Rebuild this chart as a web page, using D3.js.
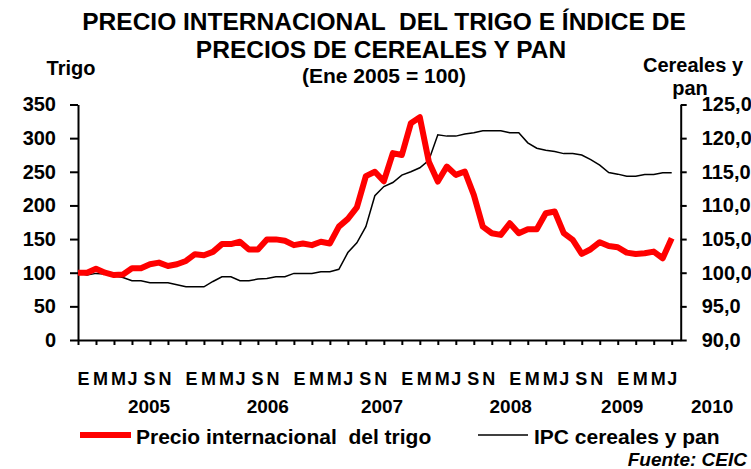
<!DOCTYPE html>
<html>
<head>
<meta charset="utf-8">
<script src="https://cdn.jsdelivr.net/npm/d3@7"></script>
<style>
body { margin: 0; background: #fff; }
svg text { font-family: Arial, "Liberation Sans", sans-serif; font-weight: bold; fill: #000; white-space: pre; }
</style>
</head>
<body>
<svg></svg>
<script>
var width = 751;
var height = 469;

// monthly data, Ene 2005 .. Jul 2010 (index 0 = Ene 2005)
var trigo = [100, 100, 106, 100, 96.5, 97.5, 106.5, 106.5, 112.5, 115,
             110, 112.5, 117.5, 127.5, 126, 131, 142.5, 142.5, 146, 134.5,
             134.5, 149.5, 149.5, 147.5, 141, 143.5, 141, 146, 143.5, 168.5,
             180, 197, 243.5, 250, 236, 277.7, 275, 322, 331, 265,
             235.5, 257.8, 245.4, 250.4, 215.7, 168.5, 158.7, 156.2, 173.5, 158.7,
             164.6, 164.6, 188.4, 190.9, 158.7, 148.7, 127.9, 134.9, 145.3, 139.8,
             137.9, 129.9, 127.9, 128.9, 131.4, 121.5, 151.2];

var ipc = [100, 99.65, 99.9, 99.8, 99.55, 99.3, 98.8, 98.8, 98.5, 98.5,
           98.5, 98.2, 97.9, 97.9, 97.9, 98.7, 99.4, 99.4, 98.8, 98.8,
           99.05, 99.15, 99.4, 99.4, 99.9, 99.9, 99.9, 100.15, 100.15, 100.5,
           103, 104.45, 106.85, 111.45, 112.8, 113.4, 114.5, 115, 115.6, 116.7,
           120.5, 120.3, 120.3, 120.6, 120.8, 121.1, 121.1, 121.1, 120.8, 120.8,
           119.3, 118.5, 118.2, 118, 117.7, 117.7, 117.5, 116.8, 116, 114.9,
           114.65, 114.35, 114.35, 114.6, 114.6, 114.85, 114.85];

// one label every two months
var monthTicks = ["E","M","M","J","S","N", "E","M","M","J","S","N",
                  "E","M","M","J","S","N", "E","M","M","J","S","N",
                  "E","M","M","J","S","N", "E","M","M","J"];
var years = ["2005", "2006", "2007", "2008", "2009", "2010"];
var yearAt = [7.9, 21.1, 33.8, 48.1, 60.5, 70.5];   // month index where each year label sits

var leftTicks = [0, 50, 100, 150, 200, 250, 300, 350];
var rightTicks = [90, 95, 100, 105, 110, 115, 120, 125];

var svg = d3.select("svg")
            .attr("width", width)
            .attr("height", height);

svg.append("rect").attr("width", width).attr("height", height).attr("fill", "#fff");

var xScale = d3.scaleLinear().domain([0, 67]).range([78, 680.7]);
var yLeft = d3.scaleLinear().domain([0, 350]).range([340, 104.5]);
var yRight = d3.scaleLinear().domain([90, 125]).range([340, 104.5]);

// titles
svg.append("text").attr("x", 384).attr("y", 30).style("text-anchor", "middle")
    .style("font-size", "24.5px").text("PRECIO INTERNACIONAL  DEL TRIGO E ÍNDICE DE");
svg.append("text").attr("x", 381).attr("y", 58).style("text-anchor", "middle")
    .style("font-size", "24.5px").text("PRECIOS DE CEREALES Y PAN");
svg.append("text").attr("x", 384).attr("y", 83).style("text-anchor", "middle")
    .style("font-size", "21px").text("(Ene 2005 = 100)");

svg.append("text").attr("x", 71).attr("y", 75).style("text-anchor", "middle")
    .style("font-size", "20px").text("Trigo");
svg.append("text").attr("x", 693).attr("y", 72).style("text-anchor", "middle")
    .style("font-size", "20px").text("Cereales y");
svg.append("text").attr("x", 690).attr("y", 95).style("text-anchor", "middle")
    .style("font-size", "20px").text("pan");

// axes
var leftAxis = svg.append("g")
    .attr("transform", "translate(78, 0)")
    .call(d3.axisLeft(yLeft).tickValues(leftTicks).tickSize(8).tickSizeOuter(0).tickPadding(14));
leftAxis.selectAll("text").style("font-size", "20px");

var rightAxis = svg.append("g")
    .attr("transform", "translate(680.7, 0)")
    .call(d3.axisRight(yRight).tickValues(rightTicks).tickSize(6).tickSizeOuter(0).tickPadding(15)
            .tickFormat(d => d.toFixed(1).replace(".", ",")));
rightAxis.selectAll("text").style("font-size", "20px");

// labels sit a bit tighter inside each year group, like the original
var groupShift = [5, 4, 4, 0, -1, -3.5];
var xAxis = svg.append("g")
    .attr("transform", "translate(0, 340)")
    .call(d3.axisBottom(xScale).tickValues(d3.range(0, 67, 2)).tickSize(5).tickSizeOuter(0).tickPadding(27)
            .tickFormat((d, i) => monthTicks[i]));
xAxis.selectAll("text")
    .style("font-size", "18px")
    .attr("x", (d, i) => groupShift[i % 6]);

svg.selectAll("g .domain, g .tick line")
    .attr("stroke", "#000")
    .attr("stroke-width", 2);

svg.selectAll(".year")
    .data(years)
    .enter()
    .append("text")
        .attr("class", "year")
        .attr("x", (d, i) => xScale(yearAt[i]))
        .attr("y", 413)
        .style("text-anchor", "middle")
        .style("font-size", "19px")
        .text(d => d);

// lines
var ipcLine = d3.line()
    .x((d, i) => xScale(i))
    .y(d => yRight(d));

var trigoLine = d3.line()
    .x((d, i) => xScale(i))
    .y(d => yLeft(d));

svg.append("path")
    .datum(ipc)
    .attr("d", ipcLine)
    .attr("fill", "none")
    .attr("stroke", "#000")
    .attr("stroke-width", 1.5);

svg.append("path")
    .datum(trigo)
    .attr("d", trigoLine)
    .attr("fill", "none")
    .attr("stroke", "#ff0000")
    .attr("stroke-width", 6)
    .attr("stroke-linejoin", "round");

// legend
svg.append("line").attr("x1", 80).attr("x2", 131).attr("y1", 435).attr("y2", 435)
    .attr("stroke", "#ff0000").attr("stroke-width", 6);
svg.append("text").attr("x", 136).attr("y", 444).style("font-size", "21px")
    .text("Precio internacional  del trigo");
svg.append("line").attr("x1", 478).attr("x2", 528).attr("y1", 435).attr("y2", 435)
    .attr("stroke", "#000").attr("stroke-width", 1.5);
svg.append("text").attr("x", 534).attr("y", 444).style("font-size", "21px")
    .text("IPC cereales y pan");

svg.append("text").attr("x", 747).attr("y", 466).style("text-anchor", "end")
    .style("font-size", "19px").style("font-style", "italic")
    .text("Fuente: CEIC");
</script>
</body>
</html>
